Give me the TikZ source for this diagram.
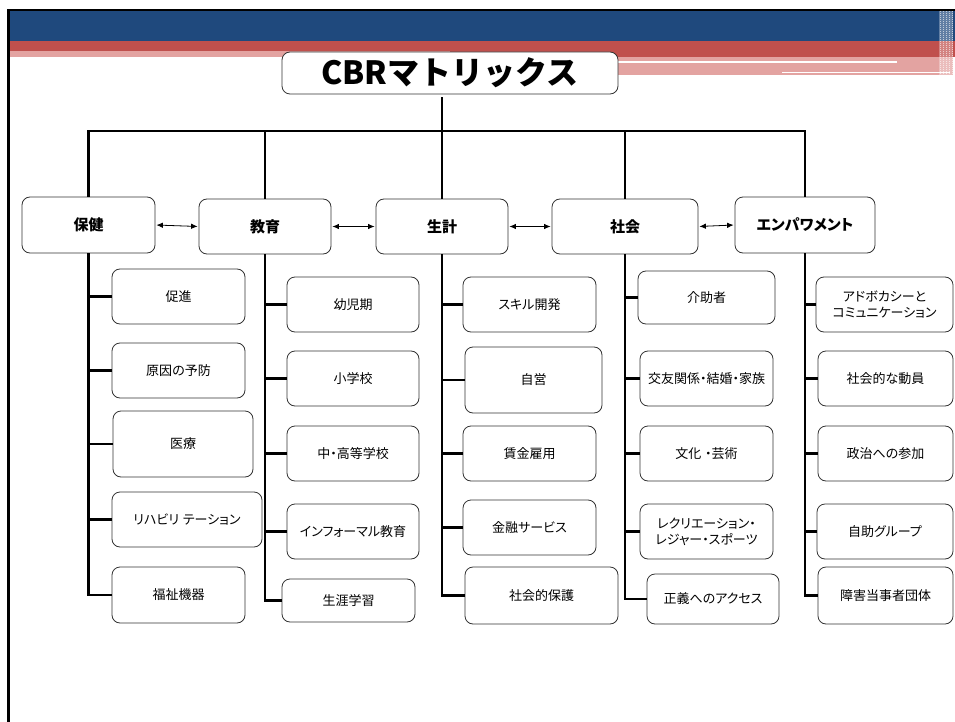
\documentclass[tikz,border=0pt]{standalone}
\usepackage{fontspec}
\newfontfamily\jp[RawFeature=+palt]{Noto Sans CJK JP}
\newfontfamily\jptitle{Noto Sans CJK JP}
\usetikzlibrary{arrows.meta}
\definecolor{hdrblue}{HTML}{1F497D}
\definecolor{hdrred}{HTML}{C0504D}
\definecolor{hdrpink}{HTML}{E3A3A1}
\begin{document}
\begin{tikzpicture}[x=1pt,y=-1pt,
  box/.style={draw=black!80, line width=0.8pt, rounded corners=8pt, fill=white, inner sep=0pt, align=center, font=\jp\fontsize{13}{16}\selectfont},
  catbox/.style={box, font=\jp\bfseries\fontsize{15}{18}\selectfont},
  titlebox/.style={box, font=\jptitle\bfseries\fontsize{32}{36}\selectfont},
  link/.style={line width=2.9pt, line join=miter},
  dbl/.style={{Latex[length=6.5pt,width=5.5pt]}-{Latex[length=6.5pt,width=5.5pt]}, line width=0.8pt, shorten <=1pt, shorten >=1pt}]
\useasboundingbox (0,0) rectangle (955,722);
\fill[white] (0,0) rectangle (955,722);
% header bands
\fill[black] (7,9) rectangle (955,11.5);
\fill[black] (7,9) rectangle (10,722);
\fill[hdrblue] (10,11.5) rectangle (955,41);
\fill[hdrred] (10,41) rectangle (955,51);
\fill[hdrpink] (10,51) rectangle (450,57);
\fill[hdrred] (450,51) rectangle (955,57);
\fill[hdrpink] (450,57) rectangle (953,75);
\fill[white] (618,61.5) rectangle (897,63.3);
\fill[white] (782,71.6) rectangle (950,73.4);
\fill[white, opacity=0.3] (939,11.5) rectangle (953,75);
\foreach \xx in {940,943,946,949,952}
  \draw[white, opacity=0.6, line width=0.7pt, dash pattern=on 1pt off 1pt] (\xx,11.5) -- (\xx,75);
% title
\node[titlebox, minimum width=336pt, minimum height=42pt] (title) at (450,73) {CBRマトリックス};
% categories
\node[catbox, minimum width=133pt, minimum height=56pt] (hoken) at (88.5,225) {保健};
\node[catbox, minimum width=132pt, minimum height=55pt] (kyoiku) at (265,226.5) {教育};
\node[catbox, minimum width=132pt, minimum height=55pt] (seikei) at (442,226.5) {生計};
\node[catbox, minimum width=146pt, minimum height=55pt] (shakai) at (625,226.5) {社会};
\node[catbox, minimum width=140pt, minimum height=56pt] (empower) at (805,225) {エンパワメント};
% health
\node[box, minimum width=133pt, minimum height=55pt] (h1) at (178.5,296.5) {促進};
\node[box, minimum width=133pt, minimum height=55pt] (h2) at (178.5,370.5) {原因の予防};
\node[box, minimum width=140pt, minimum height=66pt] (h3) at (183,444) {医療};
\node[box, minimum width=150pt, minimum height=55pt] (h4) at (187,519.5) {リハビリ\hspace{0.3em}テーション};
\node[box, minimum width=133pt, minimum height=56pt] (h5) at (178.5,595) {福祉機器};
% education
\node[box, minimum width=132pt, minimum height=55pt] (e1) at (353,304.5) {幼児期};
\node[box, minimum width=132pt, minimum height=55pt] (e2) at (353,378.5) {小学校};
\node[box, minimum width=132pt, minimum height=55pt] (e3) at (353,453.5) {中・高等学校};
\node[box, minimum width=132pt, minimum height=55pt] (e4) at (353,531.5) {インフォーマル教育};
\node[box, minimum width=133pt, minimum height=43pt] (e5) at (348.5,600.5) {生涯学習};
% livelihood
\node[box, minimum width=133pt, minimum height=55pt] (l1) at (529.5,304.5) {スキル開発};
\node[box, minimum width=137pt, minimum height=66pt] (l2) at (533.5,380) {自営};
\node[box, minimum width=133pt, minimum height=55pt] (l3) at (529.5,453.5) {賃金雇用};
\node[box, minimum width=133pt, minimum height=55pt] (l4) at (529.5,527.5) {金融サービス};
\node[box, minimum width=153pt, minimum height=57pt] (l5) at (541.5,595.5) {社会的保護};
% social
\node[box, minimum width=137pt, minimum height=53pt] (s1) at (706.5,297.5) {介助者};
\node[box, minimum width=133pt, minimum height=55pt] (s2) at (706.5,378.5) {交友関係・結婚・家族};
\node[box, minimum width=133pt, minimum height=55pt] (s3) at (706.5,453.5) {文化\hspace{0.3em}・芸術};
\node[box, minimum width=133pt, minimum height=55pt] (s4) at (706.5,531.5) {レクリエーション・\\レジャー・スポーツ};
\node[box, minimum width=132pt, minimum height=50pt] (s5) at (713,599) {正義へのアクセス};
% empowerment
\node[box, minimum width=137pt, minimum height=55pt] (p1) at (884.5,304.5) {アドボカシーと\\コミュニケーション};
\node[box, minimum width=135pt, minimum height=55pt] (p2) at (885.5,378.5) {社会的な動員};
\node[box, minimum width=135pt, minimum height=55pt] (p3) at (885.5,453.5) {政治への参加};
\node[box, minimum width=136pt, minimum height=55pt] (p4) at (885,531.5) {自助グループ};
\node[box, minimum width=135pt, minimum height=57pt] (p5) at (885.5,595.5) {障害当事者団体};
% bus
\coordinate (bus) at (0,131);
\draw[link, shorten <=3pt] (title.south -| seikei.north) -- (seikei.north |- bus);
\draw[link, line cap=rect] (hoken.north |- bus) -- (empower.north |- bus);
\foreach \n in {hoken,kyoiku,seikei,shakai,empower}
  \draw[link] (\n.north |- bus) -- (\n.north);
% arrows between categories
\draw[dbl] (hoken.east) -- (kyoiku.west);
\draw[dbl] (kyoiku.east) -- (seikei.west);
\draw[dbl] (seikei.east) -- (shakai.west);
\draw[dbl] (shakai.east) -- (empower.west);
% column trees
\foreach \c/\p in {hoken/h,kyoiku/e,seikei/l,shakai/s,empower/p}{
  \draw[link] (\c.south) -- (\c.south |- \p5.west) -- (\p5.west);
  \foreach \i in {1,2,3,4}
    \draw[link] (\c.south |- \p\i.west) -- (\p\i.west);
}
\end{tikzpicture}
\end{document}
